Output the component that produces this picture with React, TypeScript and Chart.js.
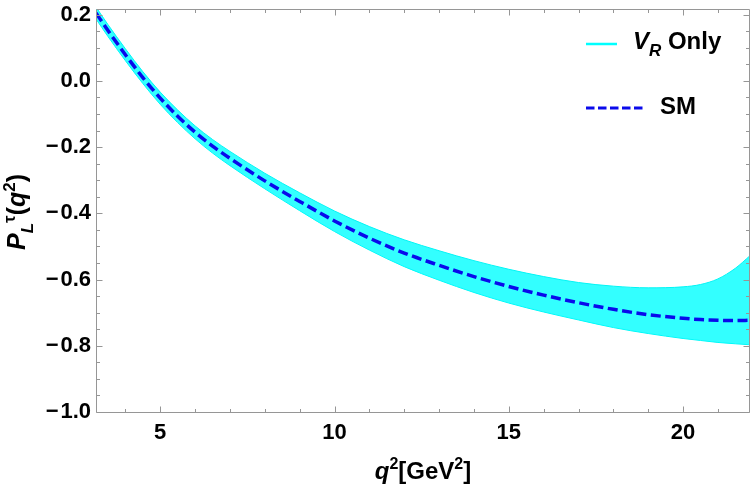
import React, { useEffect, useRef } from 'react';
import { Chart, registerables } from 'chart.js';

Chart.register(...registerables);

// Kinematic range of q^2 in GeV^2
const Q2_MIN = 3.157;
const Q2_MAX = 21.92;
const Y_MIN = -1.0;
const Y_MAX = 0.217;

// Sample points in q^2
const q2 = [3.157, 3.5, 4, 4.5, 5, 5.5, 6, 6.5, 7, 8, 9, 10, 11, 12, 13, 14, 15, 16, 17, 18, 19, 20, 20.5, 21, 21.5, 21.92];

// Standard Model prediction of the tau longitudinal polarization
const smValues = [0.205, 0.152, 0.079, 0.010, -0.052, -0.107, -0.155, -0.197, -0.234, -0.302, -0.364, -0.423, -0.475, -0.520, -0.557, -0.591, -0.621, -0.647, -0.670, -0.690, -0.706, -0.717, -0.721, -0.723, -0.724, -0.723];

// V_R-only band: upper and lower envelopes
const vrUpper = [0.223, 0.170, 0.097, 0.028, -0.034, -0.088, -0.136, -0.177, -0.213, -0.279, -0.338, -0.393, -0.440, -0.480, -0.513, -0.543, -0.569, -0.591, -0.609, -0.620, -0.625, -0.622, -0.615, -0.598, -0.566, -0.528];
const vrLower = [0.187, 0.134, 0.061, -0.008, -0.071, -0.126, -0.175, -0.218, -0.256, -0.326, -0.392, -0.455, -0.511, -0.561, -0.602, -0.639, -0.671, -0.698, -0.722, -0.745, -0.763, -0.778, -0.784, -0.790, -0.794, -0.797];

// Tick values
const xMajorTicks = [5, 10, 15, 20];
const yMajorTicks = [-1.0, -0.8, -0.6, -0.4, -0.2, 0.0, 0.2];
const X_MINOR_STEP = 1;
const Y_MINOR_STEP = 0.05;

const FONT = '"Liberation Sans", Arial, Helvetica, sans-serif';
const FRAME_COLOR = 'rgb(150,150,150)';
const BAND_EDGE = 'rgb(0,245,245)';
const BAND_FILL = 'rgba(0,255,255,0.8)';
const SM_COLOR = 'rgb(10,10,235)';

type Seg = { t: string; it?: boolean; sub?: boolean; sup?: boolean };

function segFont(s: Seg, size: number, small: number) {
  return `${s.it ? 'italic ' : ''}bold ${s.sub || s.sup ? small : size}px ${FONT}`;
}

function drawRich(
  ctx: CanvasRenderingContext2D,
  segs: Seg[],
  x: number,
  y: number,
  size: number,
  small: number,
  align: 'left' | 'center'
) {
  ctx.textAlign = 'left';
  ctx.textBaseline = 'alphabetic';
  let total = 0;
  for (const s of segs) {
    ctx.font = segFont(s, size, small);
    total += ctx.measureText(s.t).width;
  }
  let cx = align === 'center' ? x - total / 2 : x;
  for (const s of segs) {
    ctx.font = segFont(s, size, small);
    const dy = s.sub ? size * 0.3 : s.sup ? -size * 0.42 : 0;
    ctx.fillText(s.t, cx, y + dy);
    cx += ctx.measureText(s.t).width;
  }
}

function fmtY(v: number) {
  const a = Math.abs(v).toFixed(1);
  return v < -1e-9 ? '\u2212\u200a' + a : a;
}

const framePlugin = {
  id: 'frameAndLabels',
  afterDraw(chart: any) {
    const { ctx, chartArea } = chart;
    const xs = chart.scales.x;
    const ys = chart.scales.y;
    const L = chartArea.left + 0.5;
    const R = chartArea.right - 0.5;
    const T = chartArea.top + 0.5;
    const B = chartArea.bottom + 0.5;

    ctx.save();
    ctx.strokeStyle = FRAME_COLOR;
    ctx.lineWidth = 1;
    ctx.beginPath();
    ctx.rect(L, T, R - L, B - T);
    ctx.stroke();

    // inward ticks on all four sides
    ctx.beginPath();
    const isMajor = (v: number, list: number[]) => list.some((m) => Math.abs(m - v) < 1e-6);
    for (let v = Math.ceil(Q2_MIN); v <= Q2_MAX; v += X_MINOR_STEP) {
      const len = isMajor(v, xMajorTicks) ? 6 : 3.5;
      const px = Math.round(xs.getPixelForValue(v)) + 0.5;
      ctx.moveTo(px, B);
      ctx.lineTo(px, B - len);
      ctx.moveTo(px, T);
      ctx.lineTo(px, T + len);
    }
    for (let k = 0; ; k++) {
      const v = Y_MIN + k * Y_MINOR_STEP;
      if (v > Y_MAX + 1e-9) break;
      const len = isMajor(Math.round(v * 100) / 100, yMajorTicks) ? 6 : 3.5;
      const py = Math.round(ys.getPixelForValue(v)) + 0.5;
      ctx.moveTo(L, py);
      ctx.lineTo(L + len, py);
      ctx.moveTo(R, py);
      ctx.lineTo(R - len, py);
    }
    ctx.stroke();

    ctx.fillStyle = '#000';
    // x-axis title
    drawRich(
      ctx,
      [{ t: 'q', it: true }, { t: '2', sup: true }, { t: '[GeV' }, { t: '2', sup: true }, { t: ']' }],
      (chartArea.left + chartArea.right) / 2,
      479,
      24,
      16,
      'center'
    );

    // y-axis title
    ctx.save();
    ctx.translate(25, 212);
    ctx.rotate(-Math.PI / 2);
    drawRich(
      ctx,
      [
        { t: 'P', it: true },
        { t: 'L', it: true, sub: true },
        { t: '\u03c4', sup: true },
        { t: '(' },
        { t: 'q', it: true },
        { t: '2', sup: true },
        { t: ')' },
      ],
      0,
      0,
      25,
      17,
      'center'
    );
    ctx.restore();

    // legend
    ctx.lineCap = 'butt';
    ctx.strokeStyle = 'rgb(0,255,255)';
    ctx.lineWidth = 2.5;
    ctx.setLineDash([]);
    ctx.beginPath();
    ctx.moveTo(586, 44);
    ctx.lineTo(617, 44);
    ctx.stroke();
    drawRich(ctx, [{ t: 'V', it: true }, { t: 'R', it: true, sub: true }, { t: ' Only' }], 633, 48.5, 24, 17, 'left');

    ctx.strokeStyle = SM_COLOR;
    ctx.lineWidth = 3;
    ctx.setLineDash([8.5, 3.5]);
    ctx.beginPath();
    ctx.moveTo(586, 108);
    ctx.lineTo(643, 108);
    ctx.stroke();
    ctx.setLineDash([]);
    drawRich(ctx, [{ t: 'SM' }], 660, 113.5, 24, 17, 'left');

    ctx.restore();
  },
};

export default function App() {
  const canvasRef = useRef<HTMLCanvasElement | null>(null);

  useEffect(() => {
    if (!canvasRef.current) return;
    const toPts = (ys: number[]) => q2.map((x, i) => ({ x, y: ys[i] }));

    const chart = new Chart(canvasRef.current, {
      type: 'line',
      data: {
        datasets: [
          {
            label: 'SM',
            data: toPts(smValues),
            borderColor: SM_COLOR,
            borderWidth: 3.5,
            borderDash: [10, 4.5],
            pointRadius: 0,
            fill: false,
            cubicInterpolationMode: 'monotone',
            order: 0,
          },
          {
            label: 'V_R Only',
            data: toPts(vrUpper),
            borderColor: BAND_EDGE,
            borderWidth: 1,
            backgroundColor: BAND_FILL,
            pointRadius: 0,
            fill: '+1',
            cubicInterpolationMode: 'monotone',
            order: 1,
          },
          {
            label: 'V_R Only lower',
            data: toPts(vrLower),
            borderColor: BAND_EDGE,
            borderWidth: 1,
            pointRadius: 0,
            fill: false,
            cubicInterpolationMode: 'monotone',
            order: 1,
          },
        ],
      },
      options: {
        animation: false,
        responsive: false,
        maintainAspectRatio: false,
        devicePixelRatio: 1,
        layout: { padding: { top: 9, right: 0, left: 0, bottom: 0 } },
        plugins: {
          legend: { display: false },
          tooltip: { enabled: false },
          title: { display: false },
        },
        scales: {
          x: {
            type: 'linear',
            min: Q2_MIN,
            max: Q2_MAX,
            grid: { display: false, drawTicks: false },
            border: { display: false },
            ticks: {
              color: '#000',
              font: { family: FONT, size: 22, weight: 'bold' },
              padding: 8,
              maxRotation: 0,
              callback: (v: any) => String(v),
            },
            afterBuildTicks: (scale: any) => {
              scale.ticks = xMajorTicks.map((value) => ({ value }));
            },
            afterFit: (scale: any) => {
              scale.height = 80;
              scale.paddingLeft = 0;
              scale.paddingRight = 0;
            },
          },
          y: {
            type: 'linear',
            min: Y_MIN,
            max: Y_MAX,
            grid: { display: false, drawTicks: false },
            border: { display: false },
            ticks: {
              color: '#000',
              font: { family: FONT, size: 22, weight: 'bold' },
              padding: 5,
              callback: (v: any) => fmtY(Number(v)),
            },
            afterBuildTicks: (scale: any) => {
              scale.ticks = yMajorTicks.map((value) => ({ value }));
            },
            afterFit: (scale: any) => {
              scale.width = 96;
              scale.paddingTop = 0;
              scale.paddingBottom = 0;
            },
          },
        },
      } as any,
      plugins: [framePlugin],
    });

    return () => chart.destroy();
  }, []);

  return (
    <div style={{ position: 'fixed', left: 0, top: 0, width: 750, height: 492, background: '#fff' }}>
      <canvas ref={canvasRef} width={750} height={492} style={{ width: 750, height: 492, display: 'block' }} />
    </div>
  );
}
